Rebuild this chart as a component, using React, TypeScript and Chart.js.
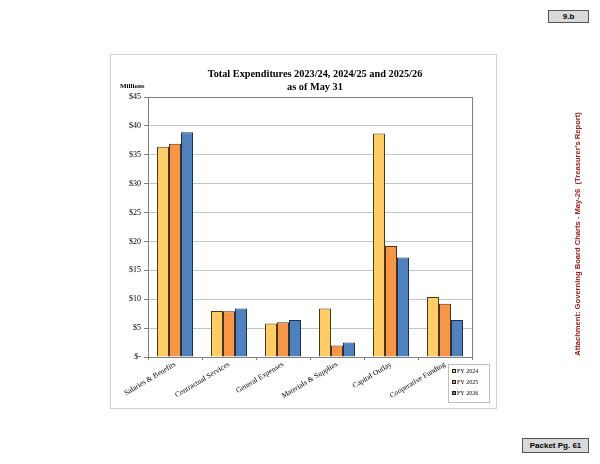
import React, { useEffect, useRef } from "react";
import { Chart, registerables } from "chart.js";

Chart.register(...registerables);

const categories = [
  "Salaries & Benefits",
  "Contractual Services",
  "General Expenses",
  "Materials & Supplies",
  "Capital Outlay",
  "Cooperative Funding",
];
const seriesLabels = ["FY 2024", "FY 2025", "FY 2026"];
const fy2024 = [36.4, 7.95, 5.8, 8.4, 38.7, 10.4];
const fy2025 = [36.9, 7.9, 6.0, 2.0, 19.2, 9.2];
const fy2026 = [38.9, 8.4, 6.4, 2.5, 17.2, 6.4];
const yMin = 0;
const yMax = 45;
const yStep = 5;

const fillColors = ["#FFCC66", "#F79646", "#4F81BD"];
const edgeColors = ["#4a3818", "#4a3018", "#1c2f4f"];

const SERIF = "'Liberation Serif', 'Times New Roman', serif";
const SANS = "'Liberation Sans', Arial, sans-serif";

const plotFrame = {
  id: "plotFrame",
  beforeDatasetsDraw(chart: any) {
    const { ctx, chartArea: a } = chart;
    ctx.save();
    ctx.strokeStyle = "#808080";
    ctx.lineWidth = 1;
    ctx.strokeRect(Math.round(a.left) + 0.5, Math.round(a.top) + 0.5, Math.round(a.right - a.left), Math.round(a.bottom - a.top));
    ctx.restore();
  },
};

const boxLegend = {
  id: "boxLegend",
  afterDraw(chart: any) {
    const { ctx, chartArea: a } = chart;
    const x = Math.round(a.right) - 24;
    const y = Math.round(a.bottom) + 7;
    const w = 41;
    const h = 38;
    ctx.save();
    ctx.fillStyle = "#ffffff";
    ctx.fillRect(x, y, w, h);
    ctx.strokeStyle = "#bfbfbf";
    ctx.lineWidth = 1;
    ctx.strokeRect(x + 0.5, y + 0.5, w, h);
    ctx.font = `6px ${SERIF}`;
    ctx.textBaseline = "middle";
    chart.data.datasets.forEach((ds: any, i: number) => {
      const cy = y + 7 + i * 11;
      ctx.fillStyle = ds.backgroundColor;
      ctx.fillRect(x + 4, cy - 2, 4, 4);
      ctx.strokeStyle = "#222";
      ctx.strokeRect(x + 4.5, cy - 1.5, 3, 3);
      ctx.fillStyle = "#000";
      ctx.fillText(ds.label, x + 9, cy);
    });
    ctx.restore();
  },
};

function ChartCanvas() {
  const ref = useRef<HTMLCanvasElement>(null);
  useEffect(() => {
    if (!ref.current) return;
    const seriesValues = [fy2024, fy2025, fy2026];
    const chart = new Chart(ref.current, {
      type: "bar",
      data: {
        labels: categories,
        datasets: seriesValues.map((vals, i) => ({
          label: seriesLabels[i],
          data: vals,
          backgroundColor: fillColors[i],
          borderColor: edgeColors[i],
          borderWidth: 1,
          categoryPercentage: 0.667,
          barPercentage: 1.0,
        })),
      },
      options: {
        responsive: false,
        animation: false,
        devicePixelRatio: 1,
        layout: { padding: { top: 97, right: 128, left: 0, bottom: 0 } },
        plugins: {
          legend: { display: false },
          title: { display: false },
          tooltip: { enabled: false },
        },
        scales: {
          x: {
            afterFit(scale: any) {
              scale.height = 107;
            },
            grid: {
              offset: true,
              drawOnChartArea: false,
              drawTicks: true,
              tickLength: 3,
              tickColor: "#808080",
            },
            border: { color: "#808080" },
            ticks: {
              autoSkip: false,
              maxRotation: 31,
              minRotation: 31,
              padding: 0,
              color: "#000",
              font: { family: SERIF, size: 7.5 },
            },
          },
          y: {
            min: yMin,
            max: yMax,
            afterFit(scale: any) {
              scale.width = 148;
            },
            grid: {
              color: "#c4c4c4",
              tickLength: 4,
              tickColor: "#808080",
            },
            border: { color: "#808080" },
            ticks: {
              stepSize: yStep,
              padding: 3,
              color: "#000",
              font: { family: SERIF, size: 8 },
              callback: (v: any) => (Number(v) === 0 ? "$-" : "$" + v),
            },
          },
        },
      },
      plugins: [plotFrame, boxLegend],
    });
    return () => chart.destroy();
  }, []);
  return (
    <canvas
      ref={ref}
      width={600}
      height={464}
      style={{ position: "absolute", left: 0, top: 0, width: 600, height: 464 }}
    />
  );
}

export default function App() {
  return (
    <div style={{ position: "absolute", left: 0, top: 0, width: 600, height: 464, background: "#fff", overflow: "hidden" }}>
      <div
        style={{
          position: "absolute",
          left: 110,
          top: 54,
          width: 387,
          height: 355,
          border: "1px solid #cfcfcf",
          boxSizing: "border-box",
        }}
      />
      <ChartCanvas />
      <div
        style={{
          position: "absolute",
          left: 0,
          top: 67,
          width: 630,
          textAlign: "center",
          fontFamily: SERIF,
          fontWeight: "bold",
          fontSize: 10.3,
          lineHeight: "13px",
          color: "#000",
        }}
      >
        Total Expenditures 2023/24, 2024/25 and 2025/26
        <br />
        as of May 31
      </div>
      <div
        style={{
          position: "absolute",
          left: 120,
          top: 81,
          fontFamily: SERIF,
          fontWeight: "bold",
          fontSize: 7,
          lineHeight: "10px",
          color: "#000",
        }}
      >
        Millions
      </div>
      <div
        style={{
          position: "absolute",
          left: 428,
          top: 228,
          width: 300,
          height: 12,
          lineHeight: "12px",
          textAlign: "center",
          transform: "rotate(-90deg)",
          transformOrigin: "center center",
          fontFamily: SANS,
          fontWeight: "bold",
          fontSize: 7.6,
          color: "#9B2020",
          whiteSpace: "pre",
        }}
      >
        {"Attachment: Governing Board Charts - May-26  (Treasurer's Report)"}
      </div>
      <div
        style={{
          position: "absolute",
          left: 548,
          top: 10,
          width: 41,
          height: 13,
          boxSizing: "border-box",
          background: "#d9d9d9",
          border: "1px solid #555",
          fontFamily: SANS,
          fontWeight: "bold",
          fontSize: 8,
          lineHeight: "11px",
          textAlign: "center",
          color: "#000",
        }}
      >
        9.b
      </div>
      <div
        style={{
          position: "absolute",
          left: 522,
          top: 438,
          width: 67,
          height: 15,
          boxSizing: "border-box",
          background: "#d9d9d9",
          border: "1px solid #555",
          fontFamily: SANS,
          fontWeight: "bold",
          fontSize: 8,
          lineHeight: "13px",
          textAlign: "center",
          color: "#000",
        }}
      >
        Packet Pg. 61
      </div>
    </div>
  );
}
